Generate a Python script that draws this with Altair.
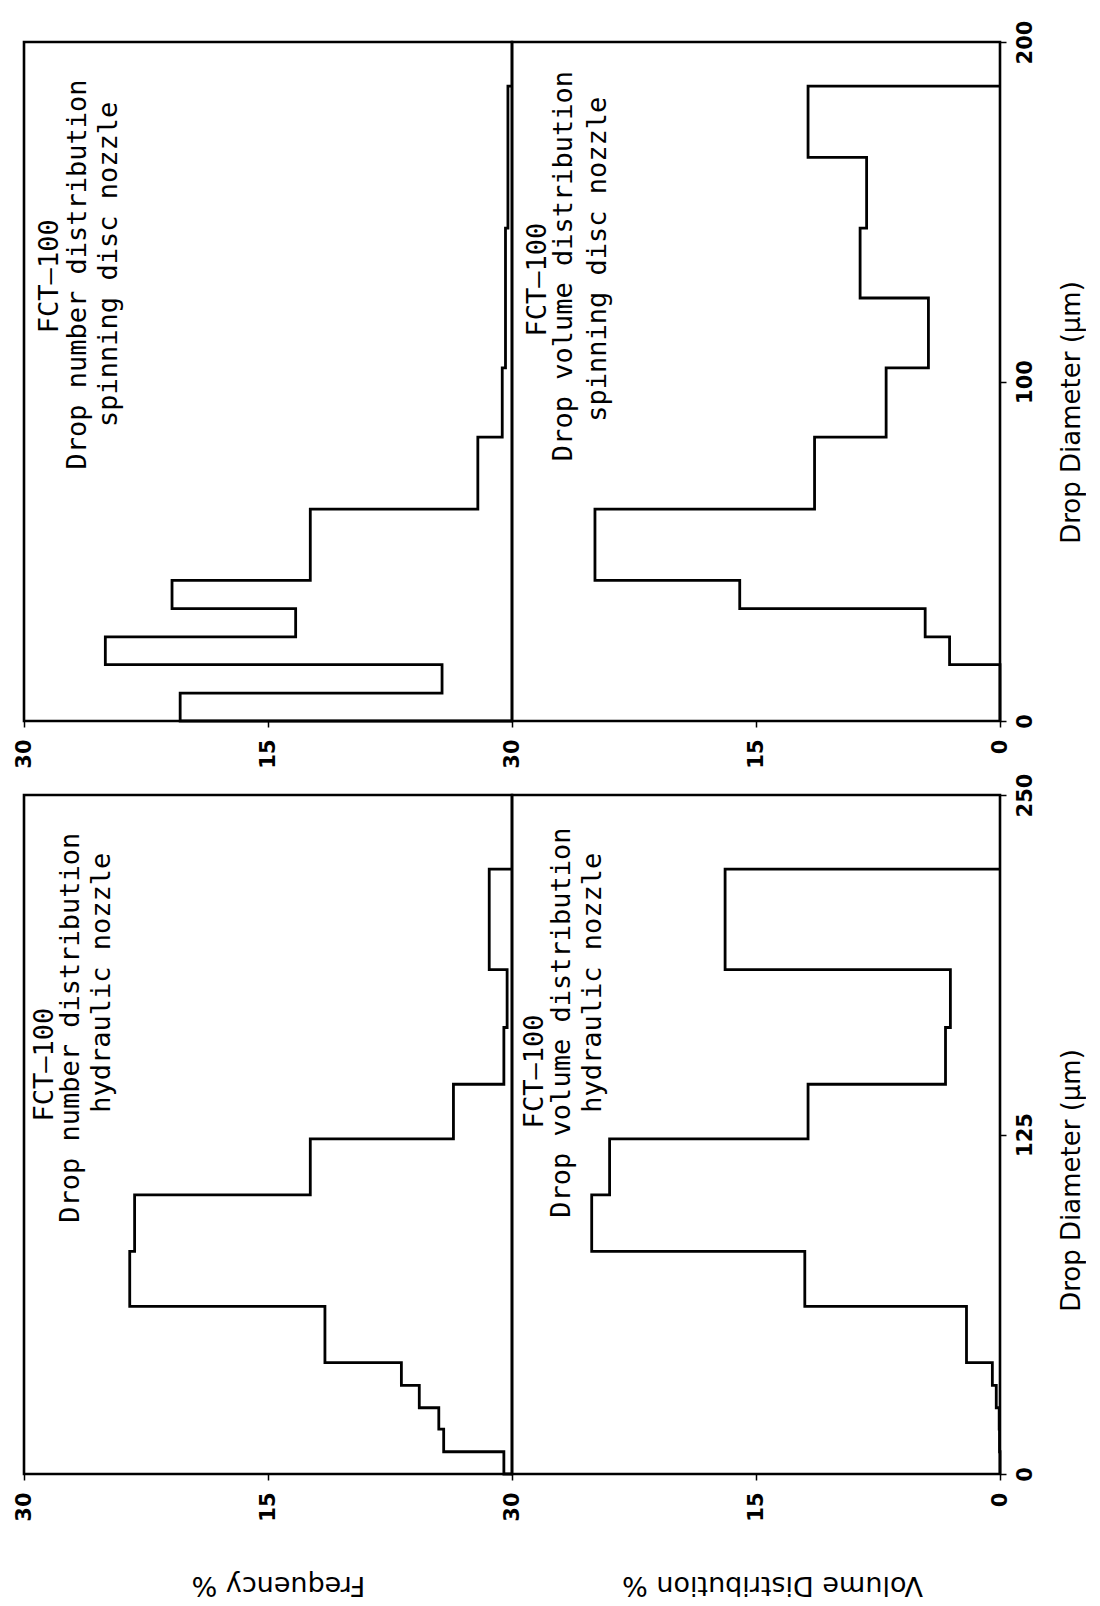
import altair as alt
import pandas as pd

# Bin edges (drop diameter, µm) and class percentages for each nozzle
SPIN_EDGES = [0, 8.2, 16.6, 24.8, 33.1, 41.4, 62.4, 83.6, 104.0, 124.6, 145.2, 166.0, 187.0]
SPIN_NUMBER = [20.4, 4.3, 25.0, 13.3, 20.9, 12.4, 2.1, 0.6, 0.4, 0.4, 0.25, 0.25]
SPIN_VOLUME = [0.0, 0.0, 3.1, 4.6, 16.0, 24.9, 11.4, 7.0, 4.4, 8.6, 8.2, 11.8]

HYD_EDGES = [0, 8.2, 16.5, 24.4, 32.6, 41.0, 61.7, 82.0, 102.8, 123.4, 143.5, 164.4, 185.7, 222.7]
HYD_NUMBER = [0.5, 4.2, 4.5, 5.7, 6.8, 11.5, 23.5, 23.2, 12.4, 3.6, 0.5, 0.3, 1.4]
HYD_VOLUME = [0.0, 0.03, 0.05, 0.23, 0.47, 2.06, 12.0, 25.1, 24.0, 11.8, 3.35, 3.05, 16.9]

SPIN_DIA_MAX = 200
HYD_DIA_MAX = 250
SPIN_DIA_TICKS = [0, 100, 200]
HYD_DIA_TICKS = [0, 125, 250]

# Panel captions: (line, % position, diameter position)
NOTES_SPIN_NUMBER = [("FCT—100", 28.4, 131.0), ("Drop number distribution", 26.7, 131.5),
                     ("spinning disc nozzle", 24.8, 134.5)]
NOTES_SPIN_VOLUME = [("FCT—100", 28.4, 130.0), ("Drop volume distribution", 26.8, 134.0),
                     ("spinning disc nozzle", 24.7, 136.0)]
NOTES_HYD_NUMBER = [("FCT—100", 28.7, 150.7), ("Drop number distribution", 27.1, 164.3),
                    ("hydraulic nozzle", 25.2, 180.9)]
NOTES_HYD_VOLUME = [("FCT—100", 28.6, 148.2), ("Drop volume distribution", 26.9, 166.2),
                    ("hydraulic nozzle", 25.0, 180.9)]

FONT = "DejaVu Sans"
MONO = "DejaVu Sans Mono"
PANEL_W = 488
PANEL_H = 679


def step_outline(edges, values):
    """Histogram outline as an ordered list of corner points."""
    rows = [{"i": 0, "pct": 0.0, "dia": edges[0]}]
    for k, v in enumerate(values):
        rows.append({"i": len(rows), "pct": v, "dia": edges[k]})
        rows.append({"i": len(rows), "pct": v, "dia": edges[k + 1]})
    rows.append({"i": len(rows), "pct": 0.0, "dia": edges[-1]})
    return pd.DataFrame(rows)


def make_panel(edges, values, dia_max, notes, pct_ticks, dia_ticks=None,
               pct_title="", pct_title_x=PANEL_W / 2, dia_title_y=PANEL_H / 2):
    x_axis = alt.Axis(
        values=pct_ticks, format="d", labelAngle=270, labelAlign="right",
        labelBaseline="middle", labelFont=FONT, labelFontWeight="bold",
        labelFontSize=21, labelColor="black", labelPadding=12,
        tickSize=6, tickColor="black", tickWidth=1.5, domain=False, grid=False,
        title=pct_title, titleAngle=180, titleFont=FONT, titleFontSize=27,
        titleFontWeight="normal", titleColor="black", titleAlign="center",
        titleBaseline="middle", titleX=pct_title_x, titleY=110,
    )
    x = alt.X("pct:Q", scale=alt.Scale(domain=[0, 30], reverse=True, nice=False),
              axis=x_axis)
    if dia_ticks is not None:
        y_axis = alt.Axis(
            orient="right", values=dia_ticks, format="d", labelAngle=270,
            labelAlign="center", labelBaseline="top", labelFont=FONT,
            labelFontWeight="bold", labelFontSize=21, labelColor="black",
            labelPadding=8, tickSize=6, tickColor="black", tickWidth=1.5,
            domain=False, grid=False,
            title="Drop Diameter    (µm)", titleAngle=270, titleFont=FONT,
            titleFontSize=26, titleFontWeight="normal", titleColor="black",
            titleAlign="center", titleBaseline="top", titleX=58, titleY=dia_title_y,
        )
        y = alt.Y("dia:Q", scale=alt.Scale(domain=[0, dia_max], nice=False), axis=y_axis)
    else:
        y = alt.Y("dia:Q", scale=alt.Scale(domain=[0, dia_max], nice=False), axis=None)

    line = alt.Chart(step_outline(edges, values)).mark_line(
        color="black", strokeWidth=2.8, strokeJoin="miter"
    ).encode(x=x, y=y, order="i:Q")

    notes_df = pd.DataFrame(notes, columns=["label", "pct", "dia"])
    text = alt.Chart(notes_df).mark_text(
        angle=270, align="center", baseline="middle", font=MONO, fontSize=27,
        color="black"
    ).encode(x=x, y=y, text="label:N")

    return alt.layer(line, text).properties(width=PANEL_W, height=PANEL_H)


spin_number = make_panel(SPIN_EDGES, SPIN_NUMBER, SPIN_DIA_MAX, NOTES_SPIN_NUMBER, [30, 15])
spin_volume = make_panel(SPIN_EDGES, SPIN_VOLUME, SPIN_DIA_MAX, NOTES_SPIN_VOLUME, [30, 15, 0],
                         dia_ticks=SPIN_DIA_TICKS, dia_title_y=370)
hyd_number = make_panel(HYD_EDGES, HYD_NUMBER, HYD_DIA_MAX, NOTES_HYD_NUMBER, [30, 15],
                        pct_title="Frequency    %", pct_title_x=254)
hyd_volume = make_panel(HYD_EDGES, HYD_VOLUME, HYD_DIA_MAX, NOTES_HYD_VOLUME, [30, 15, 0],
                        dia_ticks=HYD_DIA_TICKS, dia_title_y=385,
                        pct_title="Volume Distribution    %", pct_title_x=260)

chart = alt.concat(
    spin_number, spin_volume, hyd_number, hyd_volume,
    columns=2, spacing={"row": 74, "column": 0}, bounds="flush",
).properties(
    padding={"left": 11, "top": 18, "right": 0, "bottom": 0},
    background="white",
).configure_view(stroke="black", strokeWidth=2.6)

chart.save("out.html", embed_options={"renderer": "svg", "actions": False})
